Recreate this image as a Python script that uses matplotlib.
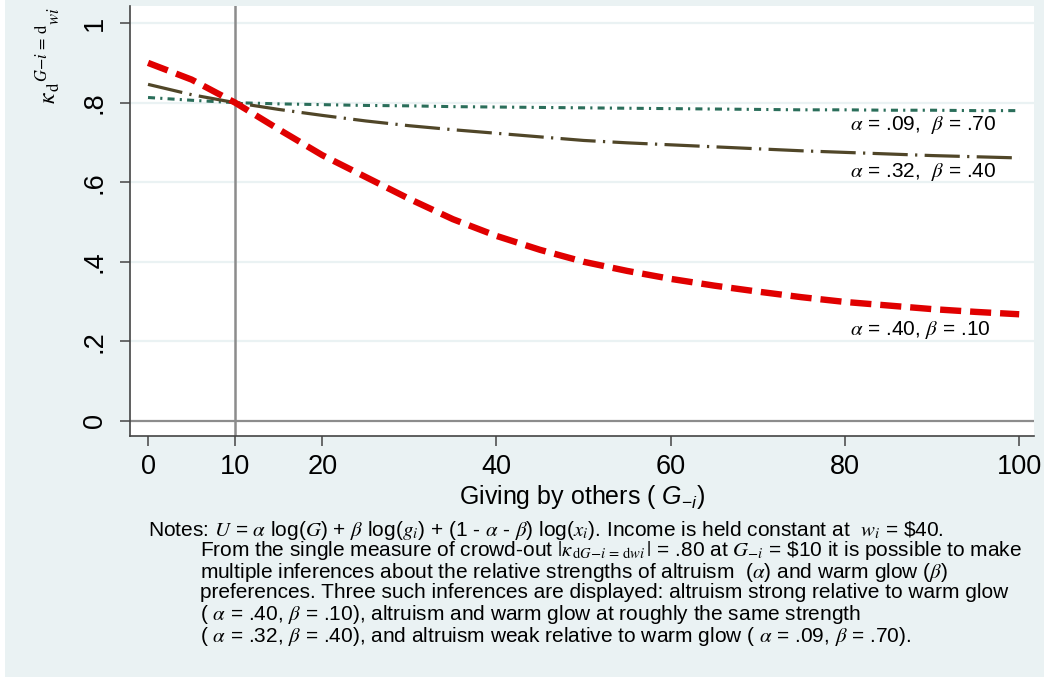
import matplotlib
matplotlib.use("Agg")
import matplotlib.pyplot as plt
from matplotlib.patches import Rectangle

plt.rcParams['font.family'] = ['Liberation Sans', 'DejaVu Sans']
plt.rcParams['mathtext.fontset'] = 'custom'
plt.rcParams['mathtext.rm'] = 'Liberation Sans'
plt.rcParams['mathtext.it'] = 'Liberation Sans:italic'

# giving by others, G-i
giving = [0, 5, 10, 15, 20, 25, 30, 35, 40, 45, 50, 55, 60, 65, 70, 75, 80, 85, 90, 95, 100]
# crowd-out for the three (alpha, beta) pairs
k_40_10 = [0.900, 0.858, 0.800, 0.733, 0.668, 0.613, 0.558, 0.507, 0.465, 0.430, 0.400,
           0.377, 0.357, 0.340, 0.325, 0.311, 0.299, 0.290, 0.281, 0.274, 0.268]
k_32_40 = [0.846, 0.820, 0.800, 0.783, 0.768, 0.754, 0.742, 0.732, 0.723, 0.714, 0.705,
           0.699, 0.694, 0.689, 0.684, 0.679, 0.675, 0.671, 0.667, 0.664, 0.661]
k_09_70 = [0.813, 0.806, 0.800, 0.797, 0.795, 0.793, 0.792, 0.790, 0.789, 0.788, 0.787,
           0.786, 0.785, 0.784, 0.783, 0.782, 0.782, 0.781, 0.781, 0.780, 0.780]

yticks = [0, 0.2, 0.4, 0.6, 0.8, 1]
ytick_labels = ['0', '.2', '.4', '.6', '.8', '1']
xticks = [0, 10, 20, 40, 60, 80, 100]

bg = '#EAF2F3'
fig = plt.figure(figsize=(10.44, 6.77), dpi=100, facecolor=bg)
fig.patches.append(Rectangle((0, 0), 5 / 1044, 1, transform=fig.transFigure,
                             facecolor='white', edgecolor='none', zorder=-1))

ax = fig.add_axes([130 / 1044, 241 / 677, 904 / 1044, 430 / 677])
ax.set_facecolor('white')
ax.set_xlim(-2.07, 101.7)
ax.set_ylim(-0.038, 1.043)

for y in yticks[1:]:
    ax.axhline(y, color=bg, lw=1.6, zorder=1)
ax.axhline(0, color='#8C8C8C', lw=1.6, zorder=2)
ax.axvline(10, color='#8C8C8C', lw=1.8, zorder=2)

ax.plot(giving, k_09_70, color='#2A6E5A', lw=2.2, dashes=(2.3, 1.7, 0.7, 1.7), zorder=3)
ax.plot(giving, k_32_40, color='#504628', lw=2.3, dashes=(11, 2.3, 0.7, 2.3), zorder=3)
ax.plot(giving, k_40_10, color='#E00000', lw=4.6, dashes=(3.3, 1.4), zorder=4)

lab_kw = dict(fontsize=15, va='center', math_fontfamily='stix')
ax.text(80.6, 0.744, r'$\alpha$ = .09,  $\beta$ = .70', **lab_kw)
ax.text(80.6, 0.626, r'$\alpha$ = .32,  $\beta$ = .40', **lab_kw)
ax.text(80.6, 0.229, r'$\alpha$ = .40, $\beta$ = .10', **lab_kw)

for s in ['top', 'right']:
    ax.spines[s].set_visible(False)
for s in ['left', 'bottom']:
    ax.spines[s].set_color('#444444')
    ax.spines[s].set_linewidth(1.2)

ax.set_yticks(yticks)
ax.set_yticklabels(ytick_labels, rotation=90, va='center')
ax.set_xticks(xticks)
ax.tick_params(axis='both', length=7, width=1.1, color='#444444', labelsize=19.5)
ax.tick_params(axis='y', pad=9)
ax.tick_params(axis='x', pad=6)

ax.set_xlabel(r'Giving by others ( $G_{-i}$)', fontsize=18, labelpad=2)

fig.text(62 / 1044, 1 - 104 / 677,
         r'$\kappa_{\,\mathrm{d}}{}^{G\mathrm{-}i\,=\,\mathrm{d}}{}_{wi}$',
         rotation=90, ha='right', va='bottom', fontsize=17, math_fontfamily='stix')

notes = [
    (148, r'Notes: $U$ = $\alpha$ log($G$) + $\beta$ log($g_i$) + (1 - $\alpha$ - $\beta$) log($x_i$). Income is held constant at  $w_i$ = \$40.'),
    (200, r'From the single measure of crowd-out $|\kappa_{\,\mathrm{d}G\mathrm{-}i\,=\,\mathrm{d}wi}\,|$ = .80 at $G_{-i}$ = \$10 it is possible to make'),
    (200, r'multiple inferences about the relative strengths of altruism  ($\alpha$) and warm glow ($\beta$)'),
    (200, r'preferences. Three such inferences are displayed: altruism strong relative to warm glow'),
    (200, r'( $\alpha$ = .40, $\beta$ = .10), altruism and warm glow at roughly the same strength'),
    (200, r'( $\alpha$ = .32, $\beta$ = .40), and altruism weak relative to warm glow ( $\alpha$ = .09, $\beta$ = .70).'),
]
note_y = [530, 551, 572, 593, 614, 636]
for (nx, line), ny in zip(notes, note_y):
    fig.text(nx / 1044, 1 - ny / 677, line, fontsize=15, va='center', ha='left',
             math_fontfamily='stix')

fig.savefig('out.png', dpi=100, facecolor=bg)
